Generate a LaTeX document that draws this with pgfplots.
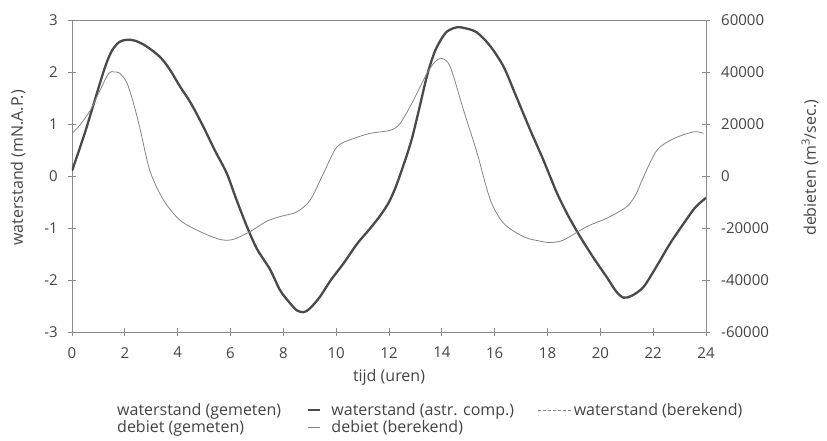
\documentclass[border=0pt]{standalone}
\usepackage{pgfplots}
\pgfplotsset{compat=1.18}
\usepackage{fontspec}
\setmainfont{Open Sans}
\definecolor{txt}{HTML}{444444}
\definecolor{axc}{HTML}{8A8A8A}
\definecolor{thickc}{HTML}{4A4A4A}
\definecolor{thinc}{HTML}{858585}
\pgfplotsset{
  shortleg/.style={legend image code/.code={\draw[##1] (0pt,0pt) -- (12pt,0pt); \path (22pt,0pt);}},
  longleg/.style={legend image code/.code={\draw[##1] (0pt,0pt) -- (33pt,0pt); \path (35pt,0pt);}},
}
\newcommand{\fs}{\fontsize{15}{18}\selectfont}
\newcommand{\fl}{\fontsize{16}{19}\selectfont}
\begin{document}
\fs
\begin{tikzpicture}
\pgfplotsset{
  every axis/.append style={
    scale only axis, width=634pt, height=312pt,
    xmin=0, xmax=24,
    axis line style={axc, line width=0.8pt},
    tick style={axc, line width=0.7pt},
    tick align=center, major tick length=8pt,
    ticklabel style={text=txt, font=\fs},
    label style={text=txt, font=\fl},
    /pgf/number format/assume math mode=true,
    /pgf/number format/1000 sep={},
    scaled y ticks=false,
  }
}
\begin{axis}[name=ax,
  ymin=-3, ymax=3,
  xtick={0,2,...,24}, ytick={-3,-2,...,3},
  xtick pos=bottom, ytick pos=left,
  xlabel={tijd (uren)},
  ylabel={waterstand (mN.A.P.)},
  xlabel style={at={(axis description cs:0.5,-0.144)}, anchor=center},
  ylabel style={at={(axis description cs:-0.085,0.526)}, anchor=center},
  xticklabel style={yshift=-6pt},
  yticklabel style={xshift=-5pt},
]
\addplot[thickc, line width=2.3pt, smooth, tension=0.5] coordinates {
(0,0.1) (0.5,0.85) (1.19,2.0) (1.5,2.4) (1.8,2.58) (2.1,2.62) (2.4,2.6) (2.8,2.5)
(3.33,2.29) (3.7,2.05) (4.09,1.72) (4.5,1.4) (4.97,0.95) (5.4,0.5) (5.86,0.05)
(6.2,-0.42) (6.62,-0.97) (7.0,-1.4) (7.5,-1.8) (7.88,-2.2) (8.26,-2.45) (8.5,-2.58)
(8.76,-2.62) (9.0,-2.55) (9.39,-2.32) (9.8,-2.0) (10.28,-1.68) (10.8,-1.3) (11.3,-1.0)
(11.67,-0.76) (12.0,-0.5) (12.3,-0.15) (12.8,0.6) (13.1,1.2) (13.43,1.91) (13.7,2.35)
(13.94,2.6) (14.2,2.78) (14.57,2.86) (14.9,2.84) (15.33,2.76) (15.83,2.5) (16.34,2.1)
(16.8,1.55) (17.35,0.88) (17.85,0.3) (18.36,-0.33) (18.8,-0.78) (19.24,-1.17)
(19.75,-1.58) (20.25,-1.95) (20.6,-2.22) (20.88,-2.34) (21.2,-2.3) (21.64,-2.13)
(22.15,-1.72) (22.65,-1.29) (23.2,-0.88) (23.6,-0.6) (24,-0.42)
};
\end{axis}
\begin{axis}[
  ymin=-60000, ymax=60000,
  axis x line=none, axis y line*=right,
  ytick={-60000,-40000,...,60000},
  ylabel={debieten (m\textsuperscript{3}/sec.)},
  ylabel style={at={(axis description cs:1.164,0.526)}, anchor=center},
  yticklabel style={xshift=6pt},
  legend columns=3, legend cell align=left,
  legend style={draw=none, fill=none, at={(axis description cs:0.071,-0.222)}, anchor=north west,
    font=\fl, text=txt, inner sep=0pt, row sep=0pt, nodes={inner xsep=0pt, inner ysep=1.5pt}},
]
\addlegendimage{empty legend}
\addlegendimage{thickc, line width=2.3pt, shortleg}
\addlegendimage{thinc, line width=0.6pt, dash pattern=on 3pt off 2pt, longleg}
\addlegendimage{empty legend}
\addlegendimage{thinc, line width=0.8pt, shortleg}
\addplot[thinc, line width=0.8pt, smooth, tension=0.5, forget plot] coordinates {
(0,16400) (0.3,19600) (0.7,25400) (1.06,33000) (1.4,39600) (1.6,40000) (1.8,39600)
(2.07,36000) (2.3,29000) (2.58,18000) (2.95,2000) (3.46,-9200) (4.09,-17000)
(4.85,-21400) (5.6,-24400) (6.1,-24400) (6.74,-21400) (7.37,-17400) (7.88,-15600)
(8.51,-13800) (9.02,-9200) (9.52,1000) (10.03,11200) (10.66,14400) (11.29,16400)
(12.05,17600) (12.42,20200) (12.93,29200) (13.43,39400) (13.75,44000) (14.0,45200)
(14.32,42000) (14.82,25400) (15.33,9000) (15.83,-9000) (16.34,-18200) (17.1,-23400)
(17.7,-25000) (18.11,-25600) (18.61,-24600) (19.5,-19400) (20.25,-16200) (21.0,-11800)
(21.35,-7000) (21.64,-200) (22.15,10000) (22.78,14400) (23.54,17000) (23.9,16400)
};
\legend{waterstand (gemeten)\rule{26pt}{0pt}, waterstand (astr. comp.)\rule{24pt}{0pt}, waterstand (berekend), debiet (gemeten), debiet (berekend)}
\end{axis}
\pgfresetboundingbox
\path[use as bounding box] (ax.south west) ++(-72pt,-109pt) rectangle ++(827pt,441pt);
\end{tikzpicture}
\end{document}
